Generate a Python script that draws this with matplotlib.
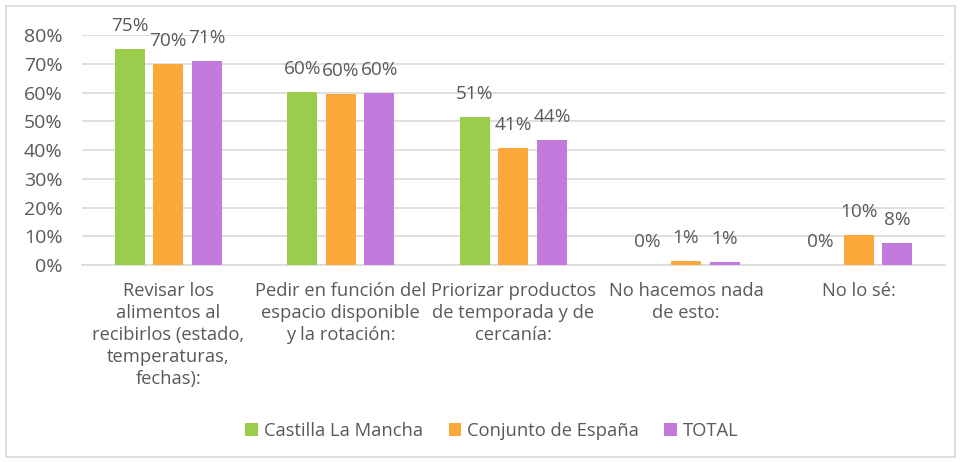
import numpy as np
import matplotlib.pyplot as plt
from matplotlib.patches import Rectangle

categories = ['Revisar los\nalimentos al\nrecibirlos (estado,\ntemperaturas,\nfechas):',
              'Pedir en función del\nespacio disponible\ny la rotación:',
              'Priorizar productos\nde temporada y de\ncercanía:',
              'No hacemos nada\nde esto:',
              'No lo sé:']
series_names = ['Castilla La Mancha', 'Conjunto de España', 'TOTAL']
castilla = [75.2, 60.2, 51.4, 0.0, 0.0]
espana = [69.9, 59.5, 40.7, 1.3, 10.4]
total = [71.1, 59.7, 43.5, 1.0, 7.7]
y_ticks = [0, 10, 20, 30, 40, 50, 60, 70, 80]

colors = ['#9BCC4B', '#FBA93A', '#C27ADC']
text_color = '#595959'
grid_color = '#D9D9D9'

plt.rcParams['font.family'] = ['Open Sans', 'DejaVu Sans']
fs = 13.2

fig = plt.figure(figsize=(9.61, 4.62), dpi=100)
fig.patches.append(Rectangle((0.006, 0.01), 0.988, 0.978, transform=fig.transFigure,
                             fill=False, edgecolor=grid_color, linewidth=1.2))
ax = fig.add_axes([0.0853, 0.4264, 0.898, 0.4978])

x = np.arange(len(categories))
width = 0.174
step = 0.223
for i, (vals, name) in enumerate(zip([castilla, espana, total], series_names)):
    pos = x + (i - 1) * step
    ax.bar(pos, vals, width, color=colors[i], label=name, zorder=3)
    for px, v in zip(pos, vals):
        ax.annotate(f'{v:.0f}%', (px, v), xytext=(0, 16.5), textcoords='offset points',
                    ha='center', va='center', fontsize=fs + 0.5, color=text_color)

ax.set_xlim(-0.5, len(categories) - 0.5)
ax.set_ylim(0, 80)
ax.set_yticks(y_ticks)
ax.set_yticklabels([f'{t}%' for t in y_ticks])
ax.set_xticks(x)
ax.set_xticklabels(categories, linespacing=1.3)
ax.tick_params(axis='both', length=0, colors=text_color, labelsize=fs)
ax.tick_params(axis='y', pad=14, labelsize=fs + 0.8)
ax.tick_params(axis='x', pad=12)
ax.grid(axis='y', color=grid_color, linewidth=1.2, zorder=0)
ax.set_axisbelow(True)
for s in ['top', 'right', 'left']:
    ax.spines[s].set_visible(False)
ax.spines['bottom'].set_color(grid_color)
ax.spines['bottom'].set_linewidth(1.2)

fig.legend(loc='center', bbox_to_anchor=(0.512, 0.068), ncol=3, frameon=False,
           fontsize=fs, labelcolor=text_color, handlelength=0.7, handleheight=0.7,
           handletextpad=0.3, columnspacing=1.4)

fig.savefig('out.png', dpi=100)
